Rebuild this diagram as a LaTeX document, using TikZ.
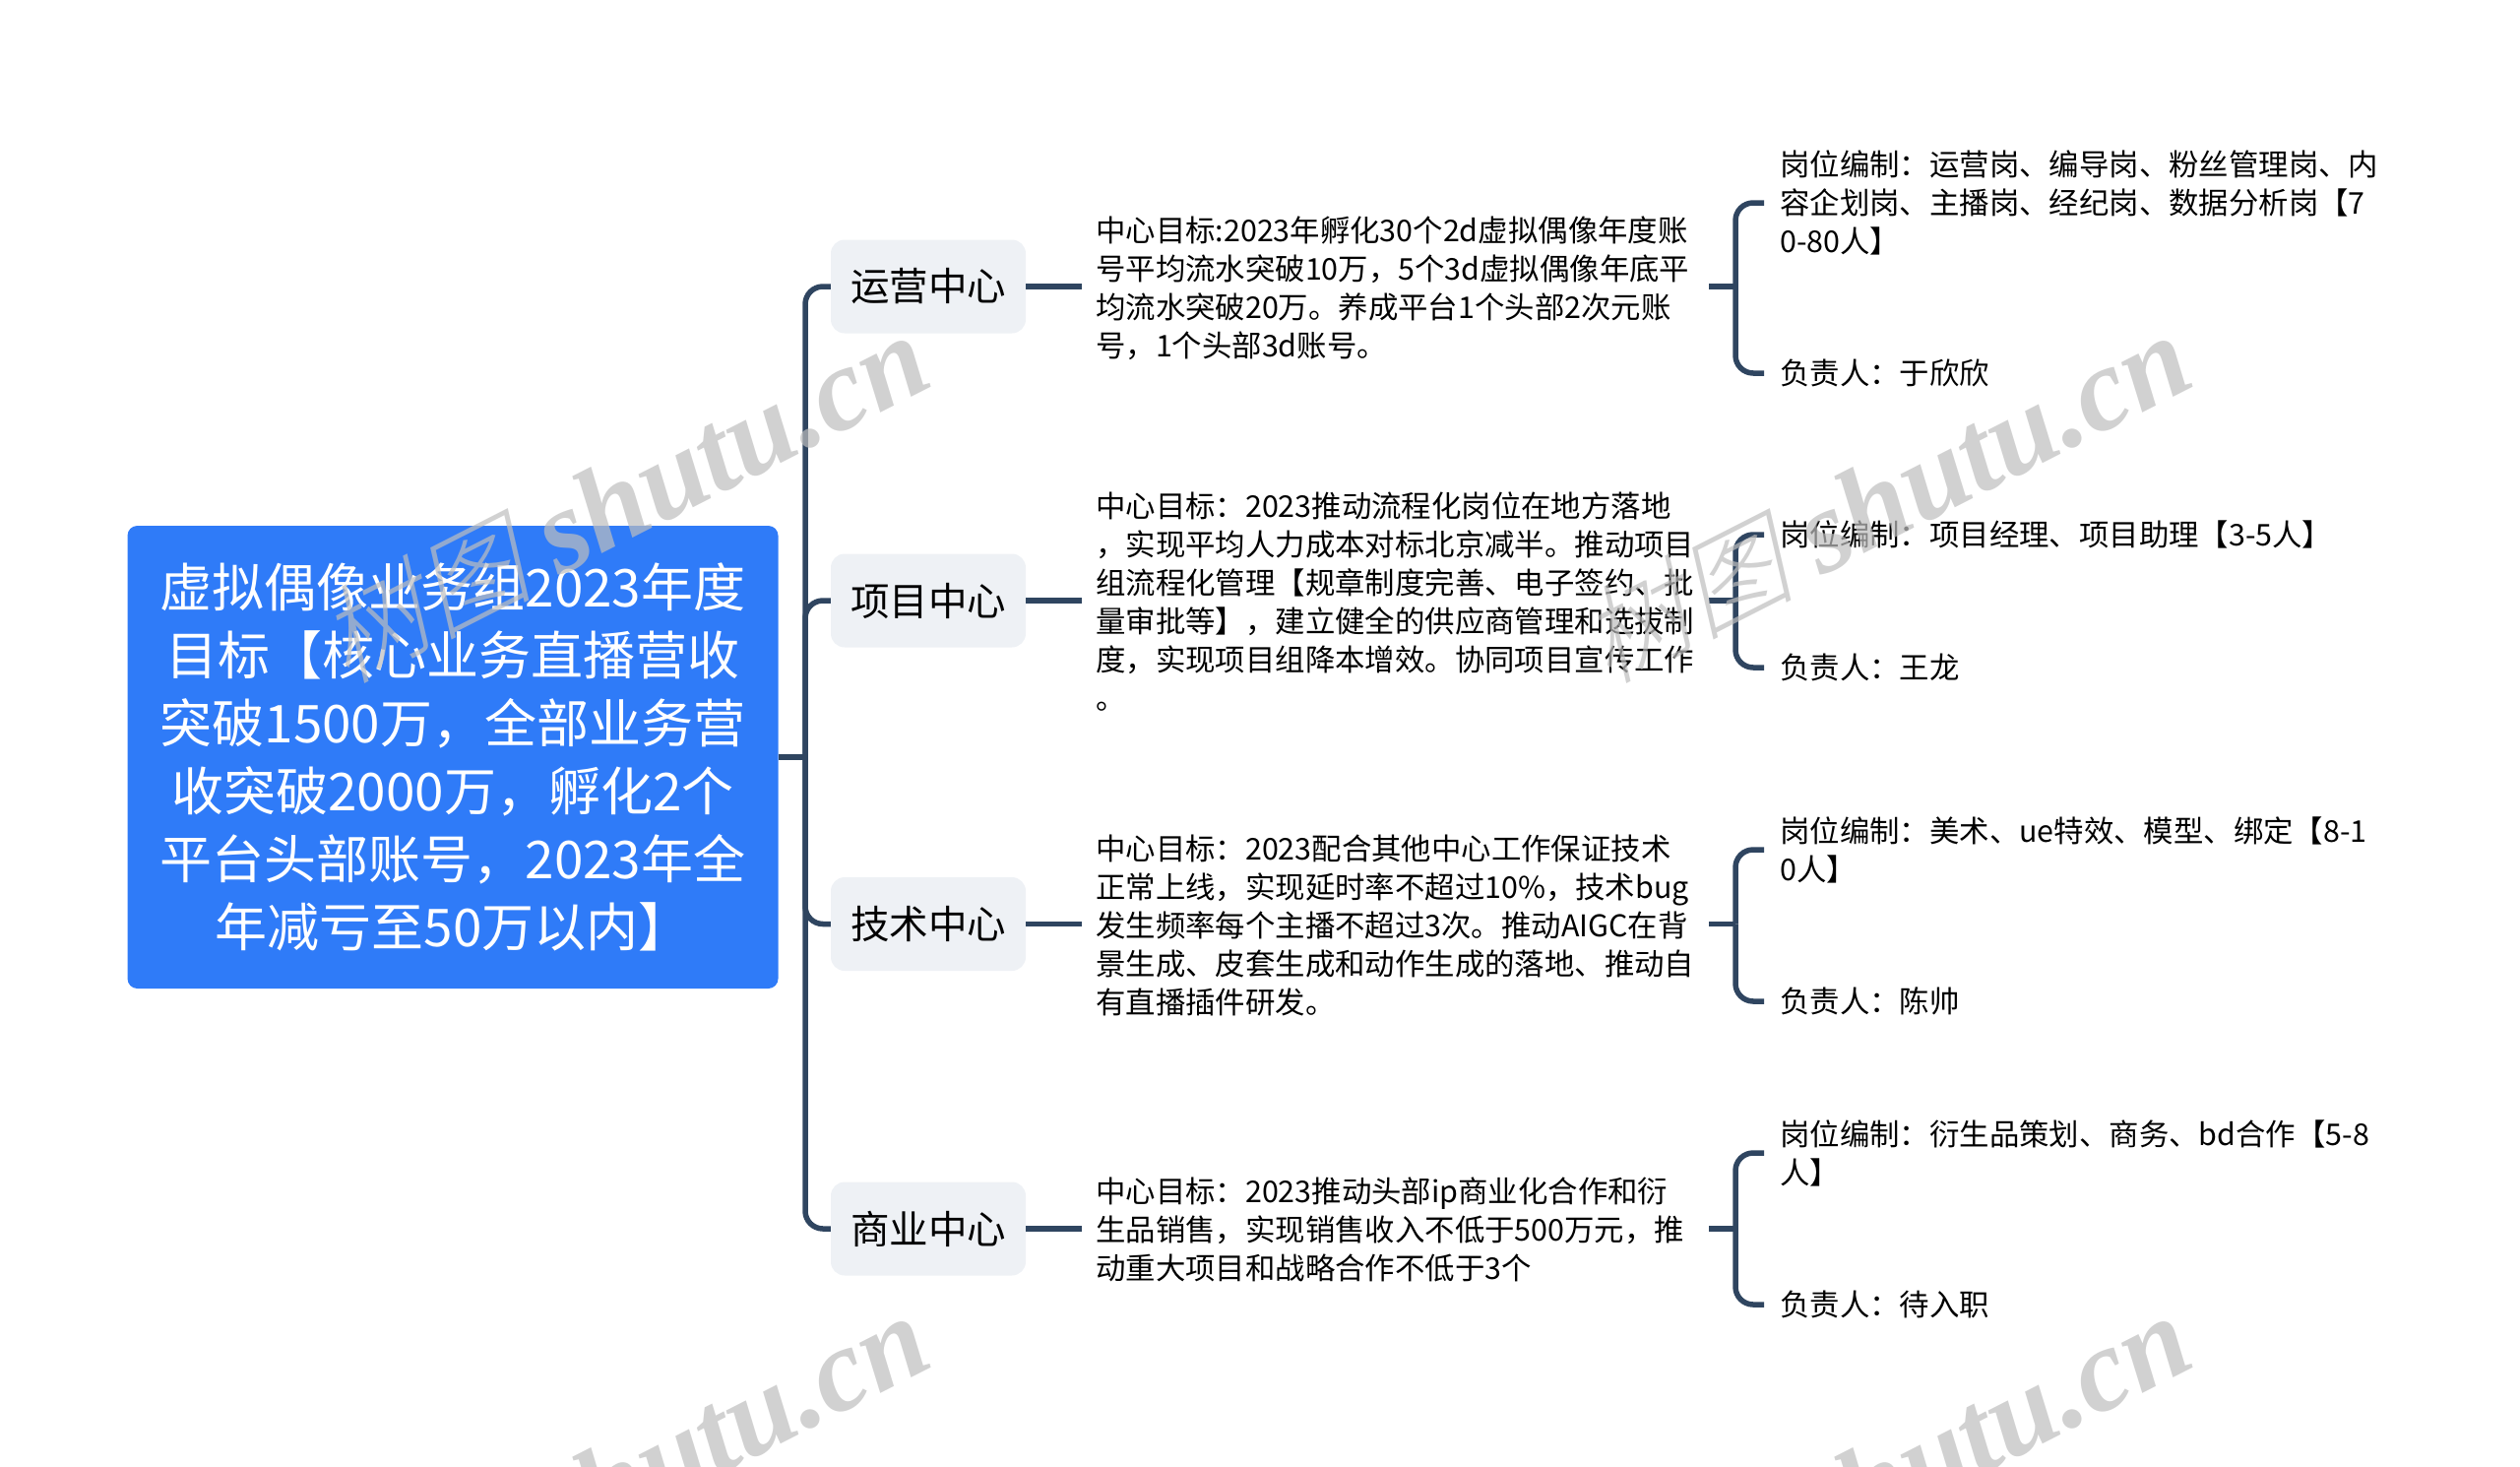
\documentclass[tikz,border=0pt]{standalone}
\usepackage{fontspec}
\setmainfont{Noto Sans CJK SC}
\newfontfamily\markfont{Liberation Serif}
\newfontfamily\markcjk[FakeSlant=0.25]{Noto Sans CJK SC Light}
\definecolor{rootblue}{HTML}{2F7BF8}
\definecolor{linknavy}{HTML}{2F4560}
\definecolor{centerfill}{HTML}{EEF1F5}
\definecolor{markgray}{HTML}{BEBEBE}
\newcommand{\marktext}{{\markcjk\fontsize{108}{108}\selectfont 树图} {\markfont\bfseries\itshape shutu.cn}}
\tikzset{
  rootnode/.style={fill=rootblue,text=white,rounded corners=10,align=center,minimum width=661,minimum height=470,inner sep=0,font=\fontsize{53}{69}\selectfont},
  centernode/.style={fill=centerfill,text=black,rounded corners=14,minimum width=198,minimum height=95,inner sep=0,font=\fontsize{39.5}{48}\selectfont},
  goalnode/.style={anchor=west,align=left,text width=609,inner xsep=14,inner ysep=0,font=\fontsize{30.4}{39}\selectfont},
  leafnode/.style={anchor=west,align=left,inner xsep=16,inner ysep=0,font=\fontsize{30.4}{39}\selectfont},
  link/.style={color=linknavy,line width=5.5,rounded corners=18},
  markline/.style={text=markgray,opacity=0.7,rotate=27,font=\fontsize{120}{120}\selectfont},
}
\begin{document}
\begin{tikzpicture}[x=1pt,y=-1pt]
  \useasboundingbox (0,0) rectangle (2560,1489);
  \node[rootnode] (root) at (460,769) {虚拟偶像业务组2023年度\\目标【核心业务直播营收\\突破1500万，全部业务营\\收突破2000万，孵化2个\\平台头部账号，2023年全\\年减亏至50万以内】};
  \node[centernode] (c1) at (943,291) {运营中心};
  \node[centernode] (c2) at (943,610) {项目中心};
  \node[centernode] (c3) at (943,938.5) {技术中心};
  \node[centernode] (c4) at (943,1248) {商业中心};
  \node[goalnode] (g1) at (1099,292.5) {中心目标:2023年孵化30个2d虚拟偶像年度账\\号平均流水突破10万，5个3d虚拟偶像年底平\\均流水突破20万。养成平台1个头部2次元账\\号，1个头部3d账号。};
  \node[goalnode] (g2) at (1099,611) {中心目标：2023推动流程化岗位在地方落地\\，实现平均人力成本对标北京减半。推动项目\\组流程化管理【规章制度完善、电子签约、批\\量审批等】，建立健全的供应商管理和选拔制\\度，实现项目组降本增效。协同项目宣传工作\\。};
  \node[goalnode] (g3) at (1099,939.5) {中心目标：2023配合其他中心工作保证技术\\正常上线，实现延时率不超过10\%，技术bug\\发生频率每个主播不超过3次。推动AIGC在背\\景生成、皮套生成和动作生成的落地、推动自\\有直播插件研发。};
  \node[goalnode] (g4) at (1099,1249) {中心目标：2023推动头部ip商业化合作和衍\\生品销售，实现销售收入不低于500万元，推\\动重大项目和战略合作不低于3个};
  \node[leafnode] (a1) at (1792,206) {岗位编制：运营岗、编导岗、粉丝管理岗、内\\容企划岗、主播岗、经纪岗、数据分析岗【7\\0-80人】};
  \node[leafnode] (b1) at (1792,379) {负责人：于欣欣};
  \node[leafnode] (a2) at (1792,543) {岗位编制：项目经理、项目助理【3-5人】};
  \node[leafnode] (b2) at (1792,678) {负责人：王龙};
  \node[leafnode] (a3) at (1792,863) {岗位编制：美术、ue特效、模型、绑定【8-1\\0人】};
  \node[leafnode] (b3) at (1792,1017) {负责人：陈帅};
  \node[leafnode] (a4) at (1792,1171) {岗位编制：衍生品策划、商务、bd合作【5-8\\人】};
  \node[leafnode] (b4) at (1792,1325) {负责人：待入职};
  \coordinate (t0) at (818,769);
  \coordinate (t1) at (1763,291);
  \coordinate (t2) at (1763,610);
  \coordinate (t3) at (1763,938.5);
  \coordinate (t4) at (1763,1248);
  \begin{scope}[link]
    \draw (root.east) to (t0);
    \draw (t0) |- (c1.west);
    \draw (t0) |- (c2.west);
    \draw (t0) |- (c3.west);
    \draw (t0) |- (c4.west);
    \draw (c1.east) to (c1.east -| g1.west);
    \draw (c2.east) to (c2.east -| g2.west);
    \draw (c3.east) to (c3.east -| g3.west);
    \draw (c4.east) to (c4.east -| g4.west);
    \draw (t1 -| g1.east) to (t1);
    \draw (t2 -| g2.east) to (t2);
    \draw (t3 -| g3.east) to (t3);
    \draw (t4 -| g4.east) to (t4);
    \draw (t1) |- (a1.west);
    \draw (t1) |- (b1.west);
    \draw (t2) |- (a2.west);
    \draw (t2) |- (b2.west);
    \draw (t3) |- (a3.west);
    \draw (t3) |- (b3.west);
    \draw (t4) |- (a4.west);
    \draw (t4) |- (b4.west);
  \end{scope}
  % watermark
  \node[markline] (m1) at (633,506) {\marktext};
  \node[markline] (m2) at (1915,506) {\marktext};
  \node[markline] (m3) at (633,1502) {\marktext};
  \node[markline] (m4) at (1915,1502) {\marktext};
\end{tikzpicture}
\end{document}
